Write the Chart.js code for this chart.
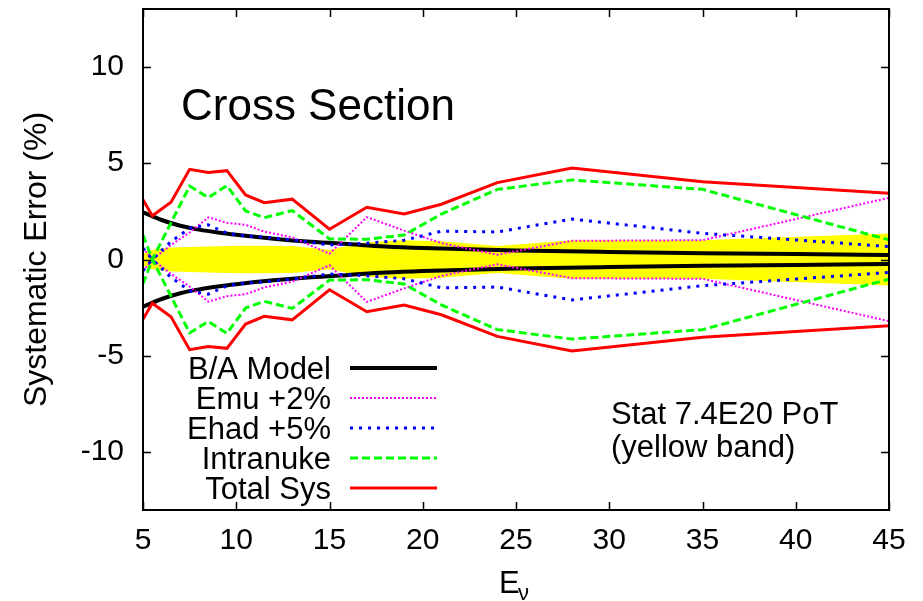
<!DOCTYPE html>
<html>
<head>
<meta charset="utf-8">
<script src="https://cdn.jsdelivr.net/npm/chart.js@4.4.1/dist/chart.umd.min.js"></script>
<style>
  html, body { margin: 0; padding: 0; background: #fff; }
  canvas { display: block; }
</style>
</head>
<body>
<canvas id="chart" width="923" height="601"></canvas>
<script>
// energy bins (GeV) and +/- systematic errors (%)
const energyBins = [5, 5.5, 6.5, 7.5, 8.5, 9.5, 10.5, 11.5, 13, 15, 17, 19, 21, 24, 28, 35, 45];
const totalSys  = [3.1, 2.27, 2.97, 4.68, 4.51, 4.61, 3.35, 2.95, 3.13, 1.57, 2.71, 2.36, 2.87, 3.99, 4.75, 4.04, 3.44];
const intranuke = [1.27, 0, 1.9, 3.81, 3.21, 3.83, 2.52, 2.17, 2.54, 1.07, 1.05, 1.27, 2.36, 3.64, 4.13, 3.64, 1.02];
const ehad      = [0.58, 0, 0.93, 1.62, 1.8, 1.36, 1.22, 1.16, 1.02, 0.75, 0.84, 1.0, 1.47, 1.43, 2.1, 1.36, 0.67];
const emu       = [0.6, 0, 0.75, 1.4, 2.19, 1.9, 1.8, 1.45, 1.15, 0.3, 2.2, 1.5, 0.85, 0.25, 0.97, 1.0, 3.2];
const statBand  = [0.3, 0.5, 0.62, 0.65, 0.67, 0.7, 0.72, 0.72, 0.7, 0.5, 0.9, 1.0, 0.95, 0.7, 1.0, 1.0, 1.35];

// B/A model is a smooth curve, sampled at these energies
const modelE   = [5, 6, 7, 8, 9, 10, 12, 14, 16, 18, 20, 25, 30, 35, 40, 45];
const modelErr = [2.45, 2.05, 1.75, 1.55, 1.4, 1.28, 1.08, 0.92, 0.8, 0.68, 0.6, 0.47, 0.39, 0.33, 0.28, 0.24];

const xTicks = [5, 10, 15, 20, 25, 30, 35, 40, 45];
const yTicks = [-10, -5, 0, 5, 10];

const FONT = '"Liberation Sans", Arial, sans-serif';

const pts = (xs, ys, sign) => xs.map((x, i) => ({ x: x, y: sign * ys[i] }));

// each systematic is drawn as a +/- pair of lines
const pair = (label, xs, ys, style) => [
    Object.assign({ label: label, key: true, data: pts(xs, ys, 1) }, style),
    Object.assign({ label: label, data: pts(xs, ys, -1) }, style)
];

const lineStyle = (color, width, dash, order) => ({
    borderColor: color,
    borderWidth: width,
    borderDash: dash,
    borderCapStyle: 'butt',
    pointRadius: 0,
    fill: false,
    tension: 0,
    order: order
});

const datasets = [
    // yellow stat band: upper fills down to lower
    { label: 'stat+', data: pts(energyBins, statBand, 1), borderWidth: 0, pointRadius: 0,
      backgroundColor: '#ffff00', fill: '+1', order: 10 },
    { label: 'stat-', data: pts(energyBins, statBand, -1), borderWidth: 0, pointRadius: 0,
      fill: false, order: 10 },
    ...pair('B/A Model', modelE, modelErr,
        Object.assign(lineStyle('#000000', 4, [], 5), { cubicInterpolationMode: 'monotone' })),
    ...pair('Emu +2%', energyBins, emu, lineStyle('#ff00ff', 2, [2, 2], 4)),
    ...pair('Ehad +5%', energyBins, ehad, lineStyle('#0000ff', 3, [3, 6], 3)),
    ...pair('Intranuke', energyBins, intranuke, lineStyle('#00ff00', 3, [8, 4], 2)),
    ...pair('Total Sys', energyBins, totalSys, lineStyle('#ff0000', 3, [], 1))
];

// frame, inward ticks on all four sides, key and text labels
const decorations = {
    id: 'decorations',
    afterDraw(chart) {
        const ctx = chart.ctx;
        const area = chart.chartArea;
        const xs = chart.scales.x;
        const ys = chart.scales.y;
        ctx.save();

        ctx.strokeStyle = '#000';
        ctx.lineWidth = 2;
        ctx.setLineDash([]);
        ctx.strokeRect(area.left, area.top, area.right - area.left, area.bottom - area.top);

        ctx.lineWidth = 1.5;
        ctx.beginPath();
        xTicks.forEach(v => {
            const px = Math.round(xs.getPixelForValue(v)) + 0.5;
            ctx.moveTo(px, area.bottom); ctx.lineTo(px, area.bottom - 8);
            ctx.moveTo(px, area.top); ctx.lineTo(px, area.top + 8);
        });
        yTicks.forEach(v => {
            const py = Math.round(ys.getPixelForValue(v)) + 0.5;
            ctx.moveTo(area.left, py); ctx.lineTo(area.left + 8, py);
            ctx.moveTo(area.right, py); ctx.lineTo(area.right - 8, py);
        });
        ctx.stroke();

        // key
        ctx.font = '31px ' + FONT;
        ctx.textAlign = 'right';
        ctx.textBaseline = 'alphabetic';
        chart.data.datasets.filter(d => d.key).forEach((d, i) => {
            const y = 368 + i * 30;
            ctx.fillStyle = '#000';
            ctx.fillText(d.label, 331, y + 11);
            ctx.strokeStyle = d.borderColor;
            ctx.lineWidth = d.borderWidth;
            ctx.setLineDash(d.borderDash);
            ctx.beginPath();
            ctx.moveTo(350, y);
            ctx.lineTo(437, y);
            ctx.stroke();
        });
        ctx.setLineDash([]);

        ctx.fillStyle = '#000';
        ctx.textAlign = 'left';
        ctx.font = '44px ' + FONT;
        ctx.fillText('Cross Section', 181, 120);
        ctx.font = '31px ' + FONT;
        ctx.fillText('Stat 7.4E20 PoT', 611, 424);
        ctx.fillText('(yellow band)', 611, 457);

        // x-axis title with subscript nu
        ctx.fillText('E', 499, 593);
        ctx.font = '22px ' + FONT;
        ctx.fillText('\u03bd', 518, 600);
        ctx.restore();
    }
};

new Chart(document.getElementById('chart'), {
    type: 'line',
    data: { datasets: datasets },
    options: {
        responsive: false,
        animation: false,
        layout: { padding: { top: 9, right: 34, left: 0, bottom: 0 } },
        plugins: {
            legend: { display: false },
            tooltip: { enabled: false }
        },
        scales: {
            x: {
                type: 'linear',
                min: 5,
                max: 45,
                afterBuildTicks: scale => { scale.ticks = xTicks.map(v => ({ value: v })); },
                afterFit: scale => { scale.height = 91; },
                grid: { display: false, drawTicks: false },
                border: { display: false },
                ticks: { color: '#000', padding: 13, maxRotation: 0, font: { family: FONT, size: 30 } }
            },
            y: {
                type: 'linear',
                min: -13,
                max: 13,
                afterBuildTicks: scale => { scale.ticks = yTicks.map(v => ({ value: v })); },
                afterFit: scale => {
                    scale.width = 143;
                    scale.paddingTop = 0;
                    scale.paddingBottom = 0;
                },
                grid: { display: false, drawTicks: false },
                border: { display: false },
                ticks: { color: '#000', padding: 19, font: { family: FONT, size: 30 } },
                title: {
                    display: true,
                    text: 'Systematic Error (%)',
                    color: '#000',
                    font: { family: FONT, size: 32, lineHeight: 1.2 },
                    padding: { top: 18, bottom: 0 }
                }
            }
        }
    },
    plugins: [decorations]
});
</script>
</body>
</html>
